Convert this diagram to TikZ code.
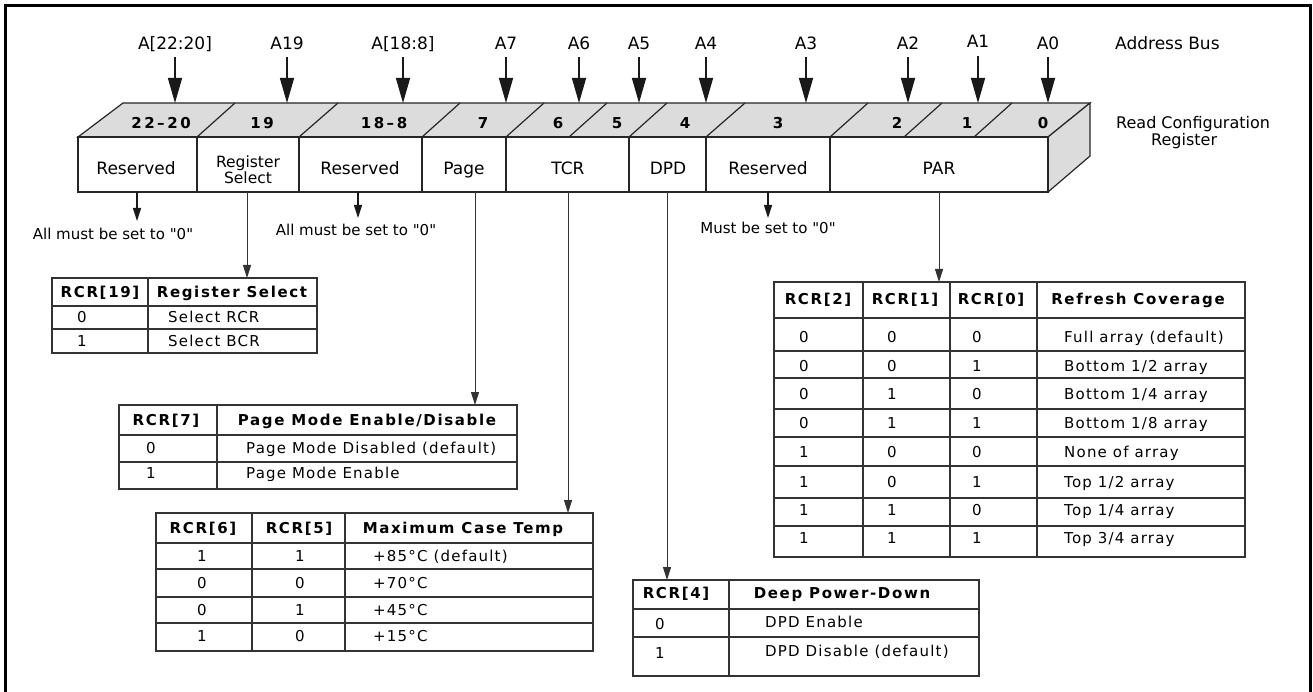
\documentclass[tikz,border=0pt]{standalone}
\usepackage{fontspec}
\setmainfont[Ligatures=TeXOff]{DejaVu Sans}
\newfontfamily\tabfont[LetterSpace=8,BoldFeatures={LetterSpace=11}]{DejaVu Sans}
\newfontfamily\bitfont[LetterSpace=17]{DejaVu Sans Bold}
\usetikzlibrary{arrows.meta}
\definecolor{facegray}{HTML}{DCDCDC}
\tikzset{
 reg/.style={draw=black!85, line width=1.2pt},
 tab/.style={draw=black!80, line width=1.3pt},
 lab/.style={font=\fontsize{17}{17}\selectfont, inner sep=0pt, text height=12.4pt, text depth=0pt},
 note/.style={font=\fontsize{15}{17}\selectfont, inner sep=0pt, text height=11pt, text depth=0pt},
 bitnum/.style={font=\bitfont\fontsize{15}{17}\selectfont, inner sep=0pt, text height=10.9pt, text depth=0pt},
 td/.style={font=\tabfont\fontsize{15}{17}\selectfont, inner sep=0pt, text height=10.9pt, text depth=0pt},
 th/.style={inner sep=0pt, text height=10.9pt, text depth=0pt, font=\tabfont\bfseries\fontsize{15}{17}\selectfont},
 bus/.style={line width=1.5pt, draw=black!90, -{Triangle[length=25pt,width=14pt]}, shorten <=8pt},
 small/.style={line width=1.1pt, draw=black!90, -{Triangle[length=13pt,width=8pt]}},
 conn/.style={line width=1pt, draw=black!80, -{Triangle[length=13pt,width=8pt]}}
}
\begin{document}
\begin{tikzpicture}[x=1pt,y=-1pt]
\useasboundingbox (0,0) rectangle (1313,692);
% frame
\draw[line width=3pt] (5.5,700) -- (5.5,5.5) -- (1310.5,5.5) -- (1310.5,700);

% register 3D box
\filldraw[reg, fill=facegray] (78,137) -- (123,103) -- (1090,103) -- (1048,137) -- cycle;
\filldraw[reg, fill=facegray] (1048,137) -- (1090,103) -- (1090,156) -- (1048,192) -- cycle;
\filldraw[reg, fill=white] (78,137) rectangle (1048,192);
\foreach \x in {197,299,422,506,629,706,830}
  \draw[reg] (\x,137) -- (\x,192);
\foreach \a/\b in {197/235,299/338,422/460,506/544,569/607,629/667,706/745,830/868,904/942,974/1012}
  \draw[reg] (\a,137) -- (\b,103);

% bit numbers
\node[bitnum] (b1) at (161,123) {22–20};
\node[bitnum] (b2) at (262,123) {19};
\node[bitnum] (b3) at (384,123) {18–8};
\node[bitnum] (b4) at (483,123) {7};
\node[bitnum] (b5) at (558,123) {6};
\node[bitnum] (b6) at (617,123) {5};
\node[bitnum] (b7) at (685,123) {4};
\node[bitnum] (b8) at (778,123) {3};
\node[bitnum] (b9) at (897,123) {2};
\node[bitnum] (b10) at (967,123) {1};
\node[bitnum] (b11) at (1043,123) {0};

% field names
\node[lab] (f1) at (136,168) {Reserved};
\node[font=\fontsize{15.5}{16}\selectfont, inner sep=0pt, align=center] (f2) at (248,169.5) {Register\\Select};
\node[lab] (f3) at (360,168) {Reserved};
\node[lab] (f4) at (464,168) {Page};
\node[lab] (f5) at (568,168) {TCR};
\node[lab] (f6) at (668,168) {DPD};
\node[lab] (f7) at (768,168) {Reserved};
\node[lab] (f8) at (939,168) {PAR};

% address bus
\foreach \n/\x/\t in {1/175/{A[22:20]},2/287/A19,3/403/{A[18:8]},4/506/A7,5/579/A6,6/639/A5,7/706/A4,8/806/A3,9/908/A2,11/1048/A0}{
  \node[lab] (a\n) at (\x,43) {\t};
  \coordinate (t\n) at (\x,103);
  \draw[bus] (a\n) -- (t\n);
}
\node[lab] (a10) at (978,41.5) {A1};
\coordinate (t10) at (978,103);
\draw[bus] (a10) -- (t10);

\node[lab, anchor=west] (busl) at (1115,43) {Address Bus};
\node[font=\fontsize{16}{14}\selectfont, inner sep=0pt, align=left, anchor=north west] (rcr) at (1116,116.2) {Read Configuration\\\hspace*{35pt}Register};

% must-be-zero notes
\coordinate (s1) at (137,192); \coordinate (e1) at (137,221);
\draw[small] (s1) -- (e1);
\node[note] (n1) at (113,234) {All must be set to "0"};
\coordinate (s3) at (358,192); \coordinate (e3) at (358,218);
\draw[small] (s3) -- (e3);
\node[note] (n3) at (356,230.5) {All must be set to "0"};
\coordinate (s7) at (768,192); \coordinate (e7) at (768,218);
\draw[small] (s7) -- (e7);
\node[note] (n7) at (768,228.5) {Must be set to "0"};

% connectors to tables
\coordinate (s2) at (247,192); \coordinate (e2) at (247,278);
\draw[conn] (s2) -- (e2);
\coordinate (s4) at (475,192); \coordinate (e4) at (475,405);
\draw[conn] (s4) -- (e4);
\coordinate (s5) at (568,192); \coordinate (e5) at (568,513);
\draw[conn] (s5) -- (e5);
\coordinate (s6) at (667,192); \coordinate (e6) at (667,580);
\draw[conn] (s6) -- (e6);
\coordinate (s8) at (939,192); \coordinate (e8) at (939,282);
\draw[conn] (s8) -- (e8);

% table RCR[19]
\draw[tab] (52,278) rectangle (317,353);
\draw[tab] (52,306) -- (317,306);
\draw[tab] (52,329) -- (317,329);
\draw[tab] (148,278) -- (148,353);
\node[th] (t19h1) at (100,292) {RCR[19]};
\node[th] (t19h2) at (232,292) {Register Select};
\node[td] (t19a) at (82,317.5) {0};
\node[td, anchor=west] (t19b) at (168,317.5) {Select RCR};
\node[td] (t19c) at (82,341.5) {1};
\node[td, anchor=west] (t19d) at (168,341.5) {Select BCR};

% table RCR[7]
\draw[tab] (119,405) rectangle (517,489);
\draw[tab] (119,435) -- (517,435);
\draw[tab] (119,462) -- (517,462);
\draw[tab] (217,405) -- (217,489);
\node[th] (t7h1) at (166,420.5) {RCR[7]};
\node[th] (t7h2) at (367,420.5) {Page Mode Enable/Disable};
\node[td] (t7a) at (151,448) {0};
\node[td, anchor=west] (t7b) at (246,448) {Page Mode Disabled (default)};
\node[td] (t7c) at (151,473.5) {1};
\node[td, anchor=west] (t7d) at (246,473.5) {Page Mode Enable};

% table TCR
\draw[tab] (156,513) rectangle (593,651);
\foreach \y in {543,569,597,623} \draw[tab] (156,\y) -- (593,\y);
\draw[tab] (252,513) -- (252,651);
\draw[tab] (345,513) -- (345,651);
\node[th] (t6h1) at (203,528) {RCR[6]};
\node[th] (t6h2) at (299,528) {RCR[5]};
\node[th] (t6h3) at (463,528) {Maximum Case Temp};
\foreach \i/\y/\p/\q/\r in {1/556/1/1/{+85°C (default)},2/583.5/0/0/{+70°C},3/610/0/1/{+45°C},4/636.5/1/0/{+15°C}}{
  \node[td] (t6a\i) at (202,\y) {\p};
  \node[td] (t6b\i) at (300,\y) {\q};
  \node[td, anchor=west] (t6c\i) at (373,\y) {\r};
}

% table DPD
\draw[tab] (633,580) rectangle (979,676);
\draw[tab] (633,609) -- (979,609);
\draw[tab] (633,637) -- (979,637);
\draw[tab] (729,580) -- (729,676);
\node[th] (t4h1) at (676,593.5) {RCR[4]};
\node[th] (t4h2) at (842,593.5) {Deep Power-Down};
\node[td] (t4a) at (660,624) {0};
\node[td, anchor=west] (t4b) at (765,622.5) {DPD Enable};
\node[td] (t4c) at (660,653) {1};
\node[td, anchor=west] (t4d) at (765,651.5) {DPD Disable (default)};

% table PAR
\draw[tab] (774,282) rectangle (1245,557);
\foreach \y in {318,351,378,409,437,466,498,526} \draw[tab] (774,\y) -- (1245,\y);
\foreach \x in {863,950,1037} \draw[tab] (\x,282) -- (\x,557);
\node[th] (t0h1) at (818,299) {RCR[2]};
\node[th] (t0h2) at (905,299) {RCR[1]};
\node[th] (t0h3) at (991,299) {RCR[0]};
\node[th] (t0h4) at (1138,299) {Refresh Coverage};
\foreach \i/\y/\p/\q/\r/\s in {1/337/0/0/0/{Full array (default)},2/366/0/0/1/{Bottom 1/2 array},3/394/0/1/0/{Bottom 1/4 array},4/423/0/1/1/{Bottom 1/8 array},5/452/1/0/0/{None of array},6/482/1/0/1/{Top 1/2 array},7/510/1/1/0/{Top 1/4 array},8/538/1/1/1/{Top 3/4 array}}{
  \node[td] (t0a\i) at (804,\y) {\p};
  \node[td] (t0b\i) at (892,\y) {\q};
  \node[td] (t0c\i) at (977,\y) {\r};
  \node[td, anchor=west] (t0d\i) at (1064,\y) {\s};
}
\end{tikzpicture}
\end{document}
